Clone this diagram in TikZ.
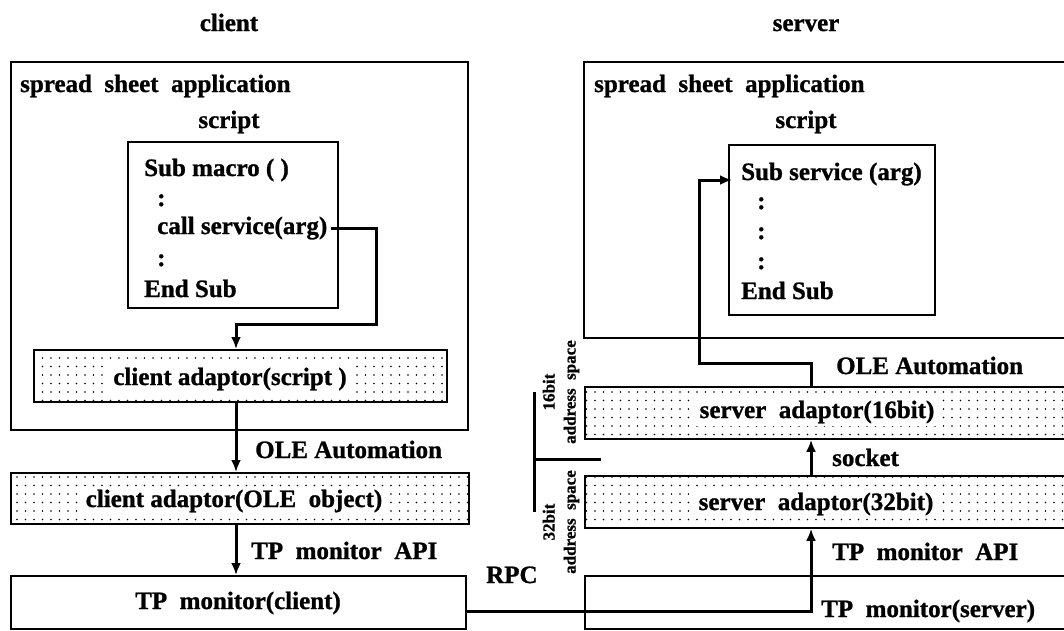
\documentclass[tikz,border=0pt]{standalone}
\usepackage{fontspec}
\setmainfont{Liberation Serif}[BoldFeatures={FakeBold=1}]
\usetikzlibrary{arrows.meta,patterns.meta,calc}
\begin{document}
\begin{tikzpicture}[x=1pt,y=-1pt,
  every node/.style={font=\fontsize{25}{30}\selectfont\bfseries, inner sep=0pt},
  box/.style={draw, line width=1.8pt, anchor=north west, inner sep=0pt},
  dotbox/.style={box, pattern={Dots[distance=8.5pt,radius=0.9pt]}},
  lbl/.style={fill=white, inner xsep=6pt, inner ysep=3pt},
  conn/.style={line width=3pt},
  arr/.style={conn, -{Latex[length=12pt,width=10pt]}},
  sp/.style={font=\fontsize{17}{21}\selectfont\bfseries, rotate=90, align=center}]
\useasboundingbox (0,0) rectangle (1064,630);
\clip (0,0) rectangle (1064,630);
% ---------------- client ----------------
\node[anchor=base] (tclient) at (229,31) {client};
\node[box, minimum width=457pt, minimum height=368pt] (capp) at (10,61) {};
\node[anchor=base west] (capptxt) at (20,92) {spread\ \ sheet\ \ application};
\node[anchor=base] (cscrtxt) at (229,128) {script};
\node[box, minimum width=210pt, minimum height=166pt] (cscr) at (127,141) {};
\node[anchor=base west] (cs1) at (144,176) {Sub macro ( )};
\node[anchor=base west] (cs2) at (157,206) {:};
\node[anchor=base west] (cs3) at (157,234) {call service(arg)};
\node[anchor=base west] (cs4) at (157,266) {:};
\node[anchor=base west] (cs5) at (144,297) {End Sub};
\node[dotbox, minimum width=413pt, minimum height=52pt] (ca1) at (33,349) {};
\node[lbl, anchor=base] (ca1txt) at (230,385) {client adaptor(script )};
\node[anchor=base west] (coletxt) at (255,458) {OLE Automation};
\node[dotbox, minimum width=458pt, minimum height=51pt] (ca2) at (10,472) {};
\node[lbl, anchor=base] (ca2txt) at (234,507) {client adaptor(OLE\ \ object)};
\node[anchor=base west] (capitxt) at (251,559) {TP\ \ monitor\ \ API};
\node[box, minimum width=455pt, minimum height=53pt] (tpc) at (10,575) {};
\node[anchor=base] (tpctxt) at (238,609) {TP\ \ monitor(client)};
\node[anchor=base west] (rpc) at (486,583) {RPC};
\coordinate (cx) at (236,0);
\coordinate (cbend) at (376,324);
\draw[arr] ($(cs3.east)+(4,0)$) -| (cbend) -| (ca1.north -| cx);
\draw[arr] (ca1.south -| cx) -- (ca2.north -| cx);
\draw[arr] (ca2.south -| cx) -- (tpc.north -| cx);
% ---------------- server ----------------
\node[anchor=base] (tserver) at (806,31) {server};
\node[box, minimum width=500pt, minimum height=276pt] (sapp) at (583,61) {};
\node[anchor=base west] (sapptxt) at (594,92) {spread\ \ sheet\ \ application};
\node[anchor=base] (sscrtxt) at (806,128) {script};
\node[box, minimum width=206pt, minimum height=170pt] (sscr) at (728,144) {};
\node[anchor=base west] (ss1) at (741,180) {Sub service (arg)};
\node[anchor=base west] (ss2) at (757,209) {:};
\node[anchor=base west] (ss3) at (757,239) {:};
\node[anchor=base west] (ss4) at (757,269) {:};
\node[anchor=base west] (ss5) at (741,299) {End Sub};
\node[anchor=base west] (soletxt) at (836,374) {OLE Automation};
\node[dotbox, minimum width=500pt, minimum height=52pt] (sa16) at (584,386) {};
\node[lbl, anchor=base] (sa16txt) at (817,418) {server\ \ adaptor(16bit)};
\node[anchor=base west] (socket) at (832,466) {socket};
\node[dotbox, minimum width=500pt, minimum height=52pt] (sa32) at (584,475) {};
\node[lbl, anchor=base] (sa32txt) at (816,510) {server\ \ adaptor(32bit)};
\node[anchor=base west] (sapitxt) at (832,560) {TP\ \ monitor\ \ API};
\node[box, minimum width=500pt, minimum height=53pt] (tps) at (584,575) {};
\node[anchor=base west] (tpstxt) at (821,617) {TP\ \ monitor(server)};
\coordinate (sx) at (811,0);
\coordinate (ry) at (0,611);
\coordinate (k1) at (699,363);
\draw[arr] (tpc.east |- ry) -| (sa32.south -| sx);
\draw[arr] (sa32.north -| sx) -- (sa16.south -| sx);
\draw[arr] (sa16.north -| sx) |- (k1) |- ($(sscr.west |- ss1.base)+(4,0)$);
% address space bracket
\coordinate (av1) at (534,392);
\coordinate (av2) at (534,512);
\coordinate (ah) at (601,459);
\draw[conn] (av1) -- (av2);
\draw[conn] (av1 |- ah) -- (ah);
\node[sp] (as16) at (561,392) {16bit\\address\ \ space};
\node[sp] (as32) at (561,522) {32bit\\address\ \ space};
\end{tikzpicture}
\end{document}
